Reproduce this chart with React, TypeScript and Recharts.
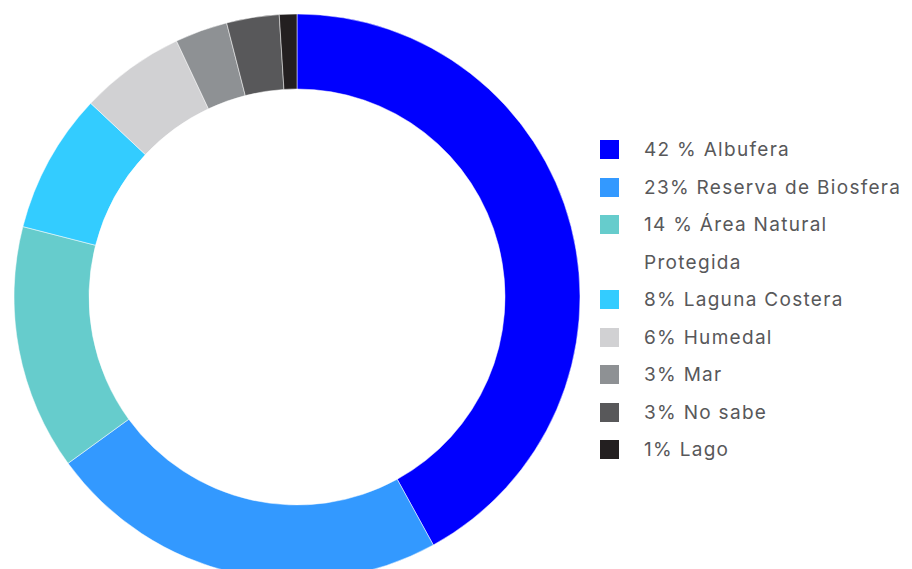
import React from 'react';
import { PieChart, Pie, Cell, Legend } from 'recharts';

const labels = ['42 % Albufera', '23% Reserva de Biosfera', '14 % Área Natural Protegida', '8% Laguna Costera', '6% Humedal', '3% Mar', '3% No sabe', '1% Lago'];
const values = [42, 23, 14, 8, 6, 3, 3, 1];
const colors = ['#0000FF', '#3399FF', '#66CCCC', '#33CCFF', '#D1D1D3', '#8E9194', '#58585A', '#231F20'];

const data = labels.map((name, i) => ({ name, value: values[i] }));

const LegendContent = () => (
  <div style={{ fontFamily: 'Inter, sans-serif', fontSize: 19, letterSpacing: '1.3px', color: '#58585A' }}>
    {labels.map((l, i) => (
      <div key={l} style={{ display: 'flex', alignItems: 'flex-start', lineHeight: '37.5px' }}>
        <div style={{ width: 19, height: 19, background: colors[i], marginTop: 9, flex: 'none' }} />
        <div style={{ marginLeft: 25, width: 275 }}>{l}</div>
      </div>
    ))}
  </div>
);

export default function App() {
  return (
    <div style={{ position: 'absolute', left: 0, top: 0, width: 912, height: 569, background: '#fff' }}>
      <PieChart width={912} height={569} margin={{ top: 0, right: 0, bottom: 0, left: 0 }}>
        <Pie
          data={data}
          dataKey="value"
          cx={297}
          cy={297}
          innerRadius={208}
          outerRadius={283}
          startAngle={90}
          endAngle={-270}
          stroke="#fff"
          strokeWidth={0.5}
          isAnimationActive={false}
        >
          {data.map((d, i) => (
            <Cell key={d.name} fill={colors[i]} />
          ))}
        </Pie>
        <Legend
          content={<LegendContent />}
          wrapperStyle={{ position: 'absolute', left: 600, top: 131, width: 310 }}
        />
      </PieChart>
    </div>
  );
}
